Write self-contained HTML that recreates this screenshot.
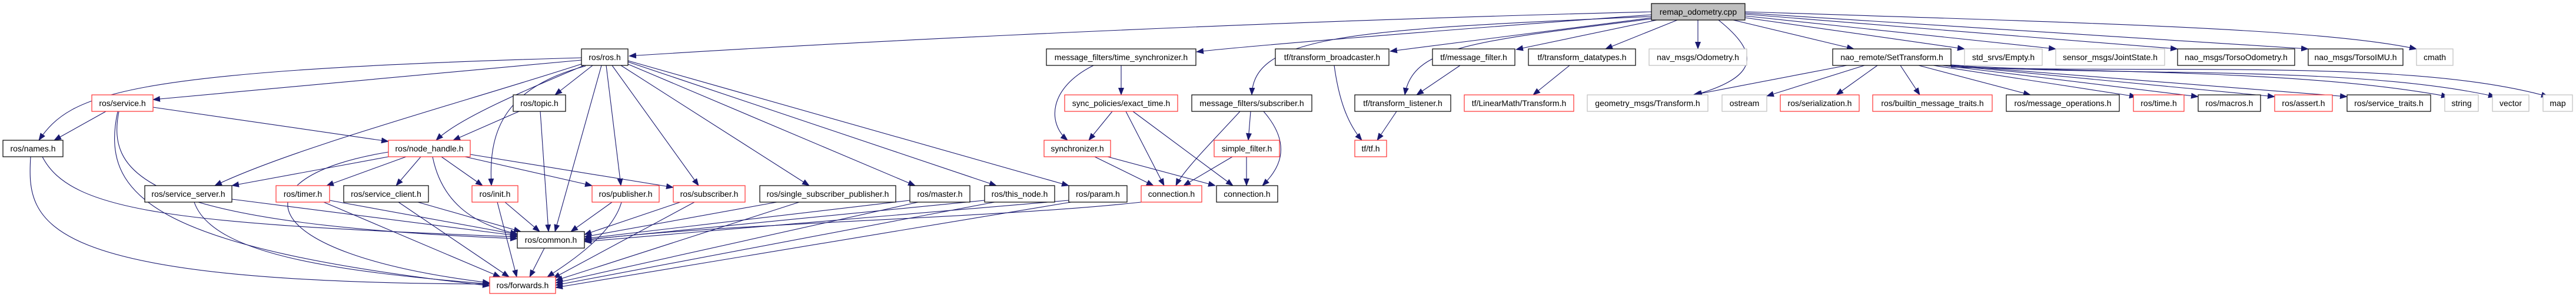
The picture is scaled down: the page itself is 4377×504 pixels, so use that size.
<!DOCTYPE html>
<html><head><meta charset="utf-8"><style>
html,body{margin:0;padding:0;background:#fff;}
svg{display:block;}
text{font-family:"Liberation Sans",sans-serif;font-size:14px;fill:#000;}
.e{fill:none;stroke:#191970;stroke-width:1.1;marker-end:url(#a);}
.b{fill:#fff;stroke:#000;stroke-width:1.2;}
.r{fill:#fff;stroke:#ff3030;stroke-width:1.2;}
.g{fill:#fff;stroke:#bfbfbf;stroke-width:1.2;}
</style></head><body>
<svg width="4377" height="504" viewBox="0 0 4377 504" xmlns="http://www.w3.org/2000/svg">
<defs><marker id="a" markerUnits="userSpaceOnUse" markerWidth="13" markerHeight="10" refX="12" refY="5" orient="auto"><path d="M0,0 L13,5 L0,10 z" fill="#191970"/></marker></defs>
<g>
<path class="e" d="M2806,20 C2000,40 1300,80 1069,95"/>
<path class="e" d="M2806,25 C2400,55 2100,80 2033,88"/>
<path class="e" d="M2808,30 L2362,87"/>
<path class="e" d="M2815,34 L2576,84"/>
<path class="e" d="M2850,34 L2728,83"/>
<path class="e" d="M2885,34 L2885,83"/>
<path class="e" d="M2920,34 C2990,90 2990,130 2880,161"/>
<path class="e" d="M2945,34 L3150,83"/>
<path class="e" d="M2965,30 L3338,83"/>
<path class="e" d="M2965,27 L3493,83"/>
<path class="e" d="M2965,24 L3700,83"/>
<path class="e" d="M2965,22 L3922,83"/>
<path class="e" d="M2965,20 C3600,40 3950,50 4106,83"/>
<path class="e" d="M2806,28 C2300,50 2130,60 2127,161"/>
<path class="e" d="M2806,32 C2500,70 2400,80 2387,161"/>
<path class="e" d="M988,98 C200,120 120,160 66,238"/>
<path class="e" d="M988,102 L260,169"/>
<path class="e" d="M995,110 C900,150 780,200 741,238"/>
<path class="e" d="M1007,111 L943,161"/>
<path class="e" d="M990,108 C800,170 500,250 365,315"/>
<path class="e" d="M995,112 C850,150 830,230 835,315"/>
<path class="e" d="M1022,111 L943,393"/>
<path class="e" d="M1030,111 L1055,315"/>
<path class="e" d="M1040,111 L1187,315"/>
<path class="e" d="M1055,111 L1375,315"/>
<path class="e" d="M1065,108 L1555,315"/>
<path class="e" d="M1067,105 L1693,315"/>
<path class="e" d="M1067,103 L1816,315"/>
<path class="e" d="M180,189 L92,238"/>
<path class="e" d="M260,182 L660,240"/>
<path class="e" d="M202,189 C180,300 250,380 879,405"/>
<path class="e" d="M200,189 C170,330 250,420 832,485"/>
<path class="e" d="M72,266 C120,360 300,380 879,402"/>
<path class="e" d="M52,266 C45,380 60,480 832,482"/>
<path class="e" d="M882,189 L770,238"/>
<path class="e" d="M918,189 L932,393"/>
<path class="e" d="M660,266 L394,315"/>
<path class="e" d="M690,266 L555,315"/>
<path class="e" d="M715,266 L673,315"/>
<path class="e" d="M750,266 L820,315"/>
<path class="e" d="M790,266 L1006,315"/>
<path class="e" d="M799,262 L1144,318"/>
<path class="e" d="M735,266 C750,340 800,380 879,397"/>
<path class="e" d="M660,258 C400,300 420,430 832,480"/>
<path class="e" d="M394,338 L879,400"/>
<path class="e" d="M330,343 C360,430 560,460 832,482"/>
<path class="e" d="M560,340 L879,398"/>
<path class="e" d="M550,343 L850,470"/>
<path class="e" d="M710,343 L885,393"/>
<path class="e" d="M677,343 L865,470"/>
<path class="e" d="M858,343 L917,393"/>
<path class="e" d="M845,343 L878,470"/>
<path class="e" d="M1040,343 L970,393"/>
<path class="e" d="M1056,343 C1040,400 960,450 930,470"/>
<path class="e" d="M1156,343 L993,398"/>
<path class="e" d="M1180,343 L940,472"/>
<path class="e" d="M1320,343 L993,402"/>
<path class="e" d="M1358,343 L944,476"/>
<path class="e" d="M1546,340 L993,405"/>
<path class="e" d="M1560,343 L944,480"/>
<path class="e" d="M1673,340 L993,407"/>
<path class="e" d="M1690,343 L944,484"/>
<path class="e" d="M1816,340 L993,410"/>
<path class="e" d="M1820,343 L944,488"/>
<path class="e" d="M1939,343 C1700,370 1200,380 993,408"/>
<path class="e" d="M925,421 L900,470"/>
<path class="e" d="M1905,111 L1905,161"/>
<path class="e" d="M1858,111 C1780,150 1780,210 1814,238"/>
<path class="e" d="M1890,189 L1850,238"/>
<path class="e" d="M1913,189 L1978,315"/>
<path class="e" d="M1925,189 L2095,315"/>
<path class="e" d="M1860,266 L1960,315"/>
<path class="e" d="M1882,266 L2065,315"/>
<path class="e" d="M2107,189 C2060,240 2010,290 1998,315"/>
<path class="e" d="M2125,189 L2121,238"/>
<path class="e" d="M2147,189 C2200,250 2170,290 2145,315"/>
<path class="e" d="M2094,266 L2011,315"/>
<path class="e" d="M2118,266 L2118,315"/>
<path class="e" d="M2267,111 C2275,170 2290,210 2314,238"/>
<path class="e" d="M2373,189 L2340,238"/>
<path class="e" d="M2481,111 L2407,161"/>
<path class="e" d="M2667,111 L2605,161"/>
<path class="e" d="M3138,111 L2877,161"/>
<path class="e" d="M3168,111 L3002,163"/>
<path class="e" d="M3190,111 L3120,161"/>
<path class="e" d="M3229,111 L3262,161"/>
<path class="e" d="M3260,111 L3450,161"/>
<path class="e" d="M3285,111 L3630,164"/>
<path class="e" d="M3300,111 L3735,164"/>
<path class="e" d="M3310,111 L3865,164"/>
<path class="e" d="M3315,111 L3988,164"/>
<path class="e" d="M3315,110 C3500,125 3900,115 4160,164"/>
<path class="e" d="M3315,112 C3600,130 4000,110 4240,164"/>
<path class="e" d="M3315,114 C3700,125 4100,100 4330,164"/>
</g>
<g>
<rect x="2806" y="6" width="159" height="28" fill="#bfbfbf" stroke="#000" stroke-width="1.2"/><text x="2885.5" y="25" text-anchor="middle">remap_odometry.cpp</text>
<rect class="b" x="988" y="83" width="79" height="28"/><text x="1027.5" y="102" text-anchor="middle">ros/ros.h</text>
<rect class="b" x="1778" y="83" width="254" height="28"/><text x="1905" y="102" text-anchor="middle">message_filters/time_synchronizer.h</text>
<rect class="b" x="2167" y="83" width="193" height="28"/><text x="2263.5" y="102" text-anchor="middle">tf/transform_broadcaster.h</text>
<rect class="b" x="2434" y="83" width="140" height="28"/><text x="2504" y="102" text-anchor="middle">tf/message_filter.h</text>
<rect class="b" x="2597" y="83" width="182" height="28"/><text x="2688" y="102" text-anchor="middle">tf/transform_datatypes.h</text>
<rect class="g" x="2802" y="83" width="166" height="28"/><text x="2885" y="102" text-anchor="middle">nav_msgs/Odometry.h</text>
<rect class="b" x="3114" y="83" width="201" height="28"/><text x="3214.5" y="102" text-anchor="middle">nao_remote/SetTransform.h</text>
<rect class="g" x="3338" y="83" width="132" height="28"/><text x="3404" y="102" text-anchor="middle">std_srvs/Empty.h</text>
<rect class="g" x="3493" y="83" width="185" height="28"/><text x="3585.5" y="102" text-anchor="middle">sensor_msgs/JointState.h</text>
<rect class="b" x="3700" y="83" width="199" height="28"/><text x="3799.5" y="102" text-anchor="middle">nao_msgs/TorsoOdometry.h</text>
<rect class="b" x="3922" y="83" width="161" height="28"/><text x="4002.5" y="102" text-anchor="middle">nao_msgs/TorsoIMU.h</text>
<rect class="g" x="4106" y="83" width="62" height="28"/><text x="4137" y="102" text-anchor="middle">cmath</text>

<rect class="r" x="156" y="161" width="104" height="28"/><text x="208" y="180" text-anchor="middle">ros/service.h</text>
<rect class="b" x="872" y="161" width="89" height="28"/><text x="916.5" y="180" text-anchor="middle">ros/topic.h</text>
<rect class="r" x="1809" y="161" width="192" height="28"/><text x="1905" y="180" text-anchor="middle">sync_policies/exact_time.h</text>
<rect class="b" x="2025" y="161" width="204" height="28"/><text x="2127" y="180" text-anchor="middle">message_filters/subscriber.h</text>
<rect class="b" x="2302" y="161" width="163" height="28"/><text x="2383.5" y="180" text-anchor="middle">tf/transform_listener.h</text>
<rect class="r" x="2488" y="161" width="186" height="28"/><text x="2581" y="180" text-anchor="middle">tf/LinearMath/Transform.h</text>
<rect class="g" x="2697" y="161" width="205" height="28"/><text x="2799.5" y="180" text-anchor="middle">geometry_msgs/Transform.h</text>
<rect class="g" x="2926" y="161" width="76" height="28"/><text x="2964" y="180" text-anchor="middle">ostream</text>
<rect class="r" x="3025" y="161" width="134" height="28"/><text x="3092" y="180" text-anchor="middle">ros/serialization.h</text>
<rect class="r" x="3182" y="161" width="203" height="28"/><text x="3283.5" y="180" text-anchor="middle">ros/builtin_message_traits.h</text>
<rect class="b" x="3409" y="161" width="192" height="28"/><text x="3505" y="180" text-anchor="middle">ros/message_operations.h</text>
<rect class="r" x="3625" y="161" width="86" height="28"/><text x="3668" y="180" text-anchor="middle">ros/time.h</text>
<rect class="b" x="3735" y="161" width="106" height="28"/><text x="3788" y="180" text-anchor="middle">ros/macros.h</text>
<rect class="r" x="3865" y="161" width="98" height="28"/><text x="3914" y="180" text-anchor="middle">ros/assert.h</text>
<rect class="b" x="3988" y="161" width="142" height="28"/><text x="4059" y="180" text-anchor="middle">ros/service_traits.h</text>
<rect class="g" x="4154" y="161" width="57" height="28"/><text x="4182.5" y="180" text-anchor="middle">string</text>
<rect class="g" x="4235" y="161" width="62" height="28"/><text x="4266" y="180" text-anchor="middle">vector</text>
<rect class="g" x="4321" y="161" width="50" height="28"/><text x="4346" y="180" text-anchor="middle">map</text>

<rect class="b" x="5" y="238" width="102" height="28"/><text x="56" y="257" text-anchor="middle">ros/names.h</text>
<rect class="r" x="660" y="238" width="139" height="28"/><text x="729.5" y="257" text-anchor="middle">ros/node_handle.h</text>
<rect class="r" x="1774" y="238" width="113" height="28"/><text x="1830.5" y="257" text-anchor="middle">synchronizer.h</text>
<rect class="r" x="2063" y="238" width="111" height="28"/><text x="2118.5" y="257" text-anchor="middle">simple_filter.h</text>
<rect class="r" x="2302" y="238" width="54" height="28"/><text x="2329" y="257" text-anchor="middle">tf/tf.h</text>

<rect class="b" x="246" y="315" width="148" height="28"/><text x="320" y="334" text-anchor="middle">ros/service_server.h</text>
<rect class="r" x="469" y="315" width="91" height="28"/><text x="514.5" y="334" text-anchor="middle">ros/timer.h</text>
<rect class="b" x="584" y="315" width="144" height="28"/><text x="656" y="334" text-anchor="middle">ros/service_client.h</text>
<rect class="r" x="802" y="315" width="78" height="28"/><text x="841" y="334" text-anchor="middle">ros/init.h</text>
<rect class="r" x="1006" y="315" width="114" height="28"/><text x="1063" y="334" text-anchor="middle">ros/publisher.h</text>
<rect class="r" x="1144" y="315" width="122" height="28"/><text x="1205" y="334" text-anchor="middle">ros/subscriber.h</text>
<rect class="b" x="1291" y="315" width="231" height="28"/><text x="1406.5" y="334" text-anchor="middle">ros/single_subscriber_publisher.h</text>
<rect class="b" x="1546" y="315" width="102" height="28"/><text x="1597" y="334" text-anchor="middle">ros/master.h</text>
<rect class="b" x="1673" y="315" width="119" height="28"/><text x="1732.5" y="334" text-anchor="middle">ros/this_node.h</text>
<rect class="b" x="1816" y="315" width="99" height="28"/><text x="1865.5" y="334" text-anchor="middle">ros/param.h</text>
<rect class="r" x="1939" y="315" width="103" height="28"/><text x="1990.5" y="334" text-anchor="middle">connection.h</text>
<rect class="b" x="2067" y="315" width="104" height="28"/><text x="2119" y="334" text-anchor="middle">connection.h</text>

<rect class="b" x="879" y="393" width="114" height="28"/><text x="936" y="412" text-anchor="middle">ros/common.h</text>
<rect class="r" x="832" y="470" width="112" height="28"/><text x="888" y="489" text-anchor="middle">ros/forwards.h</text>
</g>
</svg>
</body></html>
